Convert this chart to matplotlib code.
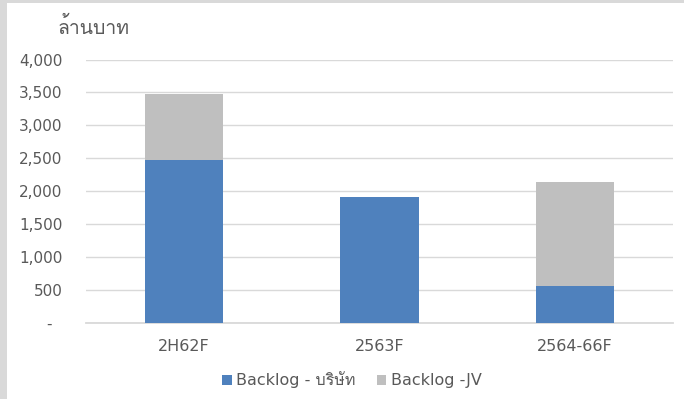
import matplotlib
matplotlib.use("Agg")
import matplotlib.pyplot as plt
from matplotlib import font_manager
from matplotlib.ft2font import FT2Font
from matplotlib.patches import Rectangle
from matplotlib.ticker import FuncFormatter

categories = ["2H62F", "2563F", "2564-66F"]
backlog_company = [2470, 1910, 565]
backlog_jv = [1000, 0, 1575]
series_labels = ["Backlog - บริษัท", "Backlog -JV"]
y_title = "ล้านบาท"
yticks = [0, 500, 1000, 1500, 2000, 2500, 3000, 3500, 4000]

# find a font that covers Thai
thai_family = None
for f in font_manager.fontManager.ttflist:
    try:
        cmap = FT2Font(f.fname).get_charmap()
        if 0x0E25 in cmap and 0x0E17 in cmap:
            thai_family = f.name
            break
    except Exception:
        pass
families = ["DejaVu Sans"] + ([thai_family] if thai_family else [])
plt.rcParams["font.family"] = families

TXT = "#595959"
BLUE = "#4f81bd"
GRAY = "#bfbfbf"
GRID = "#d9d9d9"

W, H = 684, 399
fig = plt.figure(figsize=(W / 100, H / 100), dpi=100)
fig.patch.set_facecolor("white")
fig.patches.append(Rectangle((0, 0), 7 / W, 1, transform=fig.transFigure,
                             facecolor="#d9d9d9", edgecolor="none", zorder=0))
fig.patches.append(Rectangle((0, 1 - 3 / H), 1, 3 / H, transform=fig.transFigure,
                             facecolor="#d9d9d9", edgecolor="none", zorder=0))

ax = fig.add_axes([86 / W, (H - 322.7) / H, (673 - 86) / W, (322.7 - 59.5) / H])
x = list(range(len(categories)))
ax.bar(x, backlog_company, width=0.4, color=BLUE, label=series_labels[0], zorder=3)
ax.bar(x, backlog_jv, width=0.4, bottom=backlog_company, color=GRAY,
       label=series_labels[1], zorder=3)

ax.set_xlim(-0.5, 2.5)
ax.set_ylim(0, 4000)
ax.set_yticks(yticks)
ax.yaxis.set_major_formatter(FuncFormatter(lambda v, p: "-  " if v == 0 else f"{int(v):,}"))
ax.set_xticks(x)
ax.set_xticklabels(categories)
ax.grid(axis="y", color=GRID, linewidth=1, zorder=0)
for s in ["top", "right", "left"]:
    ax.spines[s].set_visible(False)
ax.spines["bottom"].set_color(GRID)
ax.spines["bottom"].set_linewidth(1.3)
ax.tick_params(axis="both", length=0, labelcolor=TXT)
ax.tick_params(axis="y", pad=17, labelsize=11)
ax.tick_params(axis="x", pad=12, labelsize=11.5)

fig.text(57 / W, 1 - 27 / H, y_title, fontsize=14, color=TXT, va="center", ha="left")

leg = fig.legend(loc="center", bbox_to_anchor=(352 / W, 1 - 380 / H), ncol=2, frameon=False,
                 fontsize=11.5, labelcolor=TXT, handlelength=0.6, handleheight=0.6,
                 handletextpad=0.3, columnspacing=1.3)

fig.savefig("out.png", dpi=100)
